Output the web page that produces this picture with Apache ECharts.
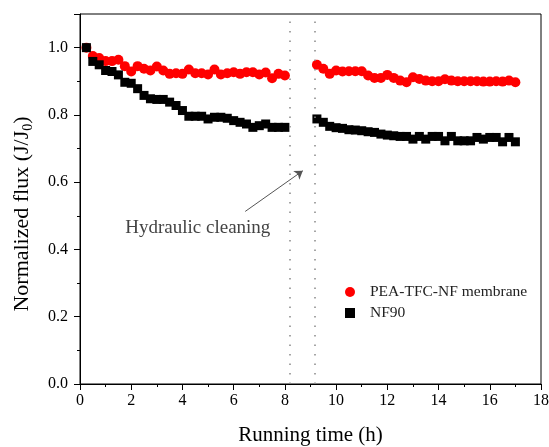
<!DOCTYPE html>
<html>
<head>
<meta charset="utf-8">
<script src="https://cdn.jsdelivr.net/npm/echarts@6/dist/echarts.min.js"></script>
<style>
  html, body { margin: 0; padding: 0; background: #fff; }
  #chart { width: 549px; height: 447px; }
</style>
</head>
<body>
<div id="chart"></div>
<script>
// Running time (h) for the two filtration periods, before and after cleaning
const timeBefore = [0.25, 0.5, 0.75, 1.0, 1.25, 1.5, 1.75, 2.0, 2.25, 2.5, 2.75, 3.0, 3.25, 3.5, 3.75, 4.0,
  4.25, 4.5, 4.75, 5.0, 5.25, 5.5, 5.75, 6.0, 6.25, 6.5, 6.75, 7.0, 7.25, 7.5, 7.75, 8.0];
const timeAfter = [9.25, 9.5, 9.75, 10.0, 10.25, 10.5, 10.75, 11.0, 11.25, 11.5, 11.75, 12.0, 12.25, 12.5,
  12.75, 13.0, 13.25, 13.5, 13.75, 14.0, 14.25, 14.5, 14.75, 15.0, 15.25, 15.5, 15.75, 16.0, 16.25, 16.5, 16.75, 17.0];

// Normalized flux J/J0, PEA-TFC-NF membrane
const peaBefore = [1.0, 0.975, 0.969, 0.960, 0.960, 0.964, 0.945, 0.929, 0.945, 0.937, 0.932, 0.944, 0.932,
  0.922, 0.924, 0.922, 0.935, 0.924, 0.924, 0.920, 0.935, 0.920, 0.924, 0.927, 0.922, 0.927, 0.927, 0.920,
  0.926, 0.909, 0.922, 0.917];
const peaAfter = [0.949, 0.937, 0.922, 0.932, 0.929, 0.930, 0.930, 0.930, 0.917, 0.910, 0.910, 0.919, 0.910,
  0.902, 0.897, 0.912, 0.907, 0.902, 0.900, 0.900, 0.906, 0.902, 0.900, 0.900, 0.900, 0.900, 0.899, 0.899,
  0.900, 0.899, 0.902, 0.897];

// Normalized flux J/J0, NF90
const nf90Before = [1.0, 0.959, 0.949, 0.932, 0.929, 0.919, 0.897, 0.894, 0.878, 0.858, 0.848, 0.846, 0.846,
  0.838, 0.828, 0.813, 0.796, 0.796, 0.796, 0.788, 0.793, 0.793, 0.790, 0.783, 0.778, 0.773, 0.763, 0.768,
  0.773, 0.763, 0.763, 0.763];
const nf90After = [0.788, 0.778, 0.766, 0.762, 0.760, 0.756, 0.755, 0.753, 0.750, 0.748, 0.743, 0.740, 0.738,
  0.736, 0.736, 0.728, 0.736, 0.728, 0.736, 0.736, 0.723, 0.736, 0.723, 0.723, 0.723, 0.733, 0.728, 0.733,
  0.733, 0.720, 0.733, 0.720];

// Cleaning interval boundaries (h)
const cleaningMarks = [8.2, 9.15];

const seriesNames = ['PEA-TFC-NF membrane', 'NF90'];
const xTicks = { min: 0, max: 18, interval: 2 };
const yTicks = { min: 0, max: 1.1, interval: 0.2 };

function pairs(ts, vs) { return ts.map((t, i) => [t, vs[i]]); }

const FONT = '"Liberation Serif", "DejaVu Serif", serif';

const chart = echarts.init(document.getElementById('chart'), null, { renderer: 'canvas' });

const axisCommon = {
  axisLine: { show: true, onZero: false, lineStyle: { color: '#000', width: 1 } },
  axisTick: { show: true, inside: false, length: 6, lineStyle: { color: '#000' } },
  minorTick: { show: true, splitNumber: 2, length: 3, lineStyle: { color: '#000' } },
  splitLine: { show: false },
  axisLabel: { color: '#000', fontFamily: FONT, fontSize: 16 }
};

chart.setOption({
  animation: false,
  backgroundColor: '#fff',
  grid: {
    left: 80, right: 8, top: 14, bottom: 63,
    outerBoundsMode: 'none',
    containLabel: false,
    show: true, borderColor: '#000', borderWidth: 1, backgroundColor: 'transparent'
  },
  legend: {
    orient: 'vertical',
    left: 340, top: 279,
    itemGap: 5,
    itemWidth: 10, itemHeight: 10,
    textStyle: { color: '#222', fontFamily: FONT, fontSize: 15.5, padding: [0, 0, 0, 10] },
    data: [
      { name: seriesNames[0], icon: 'circle' },
      { name: seriesNames[1], icon: 'rect', itemStyle: { color: '#000' } }
    ]
  },
  xAxis: Object.assign({}, axisCommon, {
    type: 'value',
    min: xTicks.min, max: xTicks.max, interval: xTicks.interval,
    name: 'Running time (h)',
    nameLocation: 'middle',
    nameGap: 41,
    nameTextStyle: { color: '#000', fontFamily: FONT, fontSize: 21 },
    axisLabel: Object.assign({}, axisCommon.axisLabel, { margin: 9 })
  }),
  yAxis: Object.assign({}, axisCommon, {
    type: 'value',
    min: yTicks.min, max: yTicks.max, interval: yTicks.interval,
    name: 'Normalized flux (J/J{s|0})',
    nameLocation: 'middle',
    nameGap: 45,
    nameTextStyle: {
      color: '#000', fontFamily: FONT, fontSize: 22,
      padding: [0, 30, 0, 0],
      rich: { s: { fontFamily: FONT, fontSize: 14, color: '#000', padding: [12, 0, 0, 0] } }
    },
    axisLabel: Object.assign({}, axisCommon.axisLabel, {
      margin: 12,
      showMaxLabel: false,
      formatter: v => v > 1.05 ? '' : v.toFixed(1)
    })
  }),
  series: [
    {
      name: seriesNames[0],
      type: 'scatter',
      symbol: 'circle',
      symbolSize: 10,
      itemStyle: { color: '#ff0000', opacity: 1 },
      data: pairs(timeBefore, peaBefore).concat(pairs(timeAfter, peaAfter)),
      markLine: {
        silent: true,
        symbol: ['none', 'none'],
        label: { show: false },
        lineStyle: { color: '#888', type: [1.5, 8], width: 1.5 },
        data: cleaningMarks.map(x => ({ xAxis: x }))
      }
    },
    {
      name: seriesNames[1],
      type: 'scatter',
      symbol: 'rect',
      symbolSize: 9,
      itemStyle: { color: '#000', opacity: 1 },
      data: pairs(timeBefore, nf90Before).concat(pairs(timeAfter, nf90After)),
      markLine: {
        silent: true,
        symbol: ['none', 'arrow'],
        symbolSize: 8,
        label: { show: false },
        lineStyle: { color: '#555', type: 'solid', width: 1 },
        data: [[{ coord: [6.45, 0.513] }, { coord: [8.7, 0.634] }]]
      },
      markPoint: {
        silent: true,
        symbol: 'circle',
        symbolSize: 0,
        label: {
          show: true,
          position: 'inside',
          formatter: 'Hydraulic cleaning',
          color: '#444',
          fontFamily: FONT,
          fontSize: 19
        },
        data: [{ coord: [4.6, 0.463] }]
      }
    }
  ]
});
</script>
</body>
</html>
